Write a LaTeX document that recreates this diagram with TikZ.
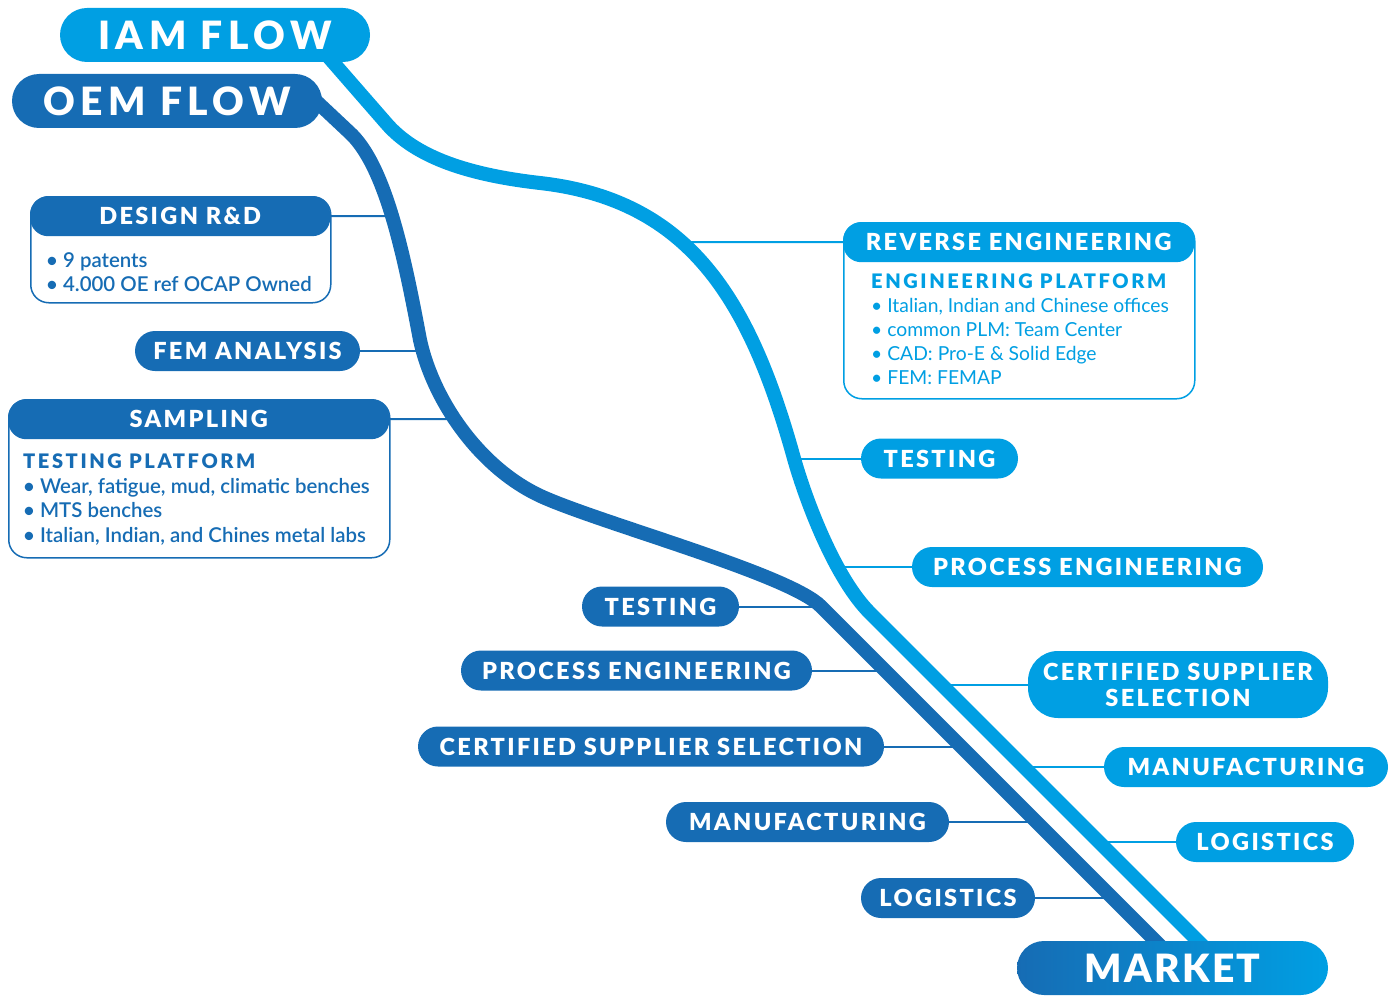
\documentclass[tikz,border=0pt]{standalone}
\usepackage{fontspec}
\setmainfont{Lato}
\newfontfamily\capsfont{Lato Black}[LetterSpace=10]
\newfontfamily\titlefont{Lato Black}[LetterSpace=14]
\newfontfamily\marketfont{Lato Black}[LetterSpace=6]
\newfontfamily\platformfont{Lato Black}[LetterSpace=13]
\newfontfamily\semifont{Lato Semibold}
\usepackage{tikz}
\usepackage{xcolor}
\definecolor{oemblue}{RGB}{22,108,180}
\definecolor{iamblue}{RGB}{0,159,227}
\pgfdeclarelayer{background}
\pgfsetlayers{background,main}
\tikzset{
  pill/.style={rounded corners=20pt, minimum height=40pt, inner sep=0pt, text=white,
    font=\capsfont\fontsize{23.5}{26}\selectfont},
  oempill/.style={pill, fill=oemblue},
  iampill/.style={pill, fill=iamblue},
  flowtitle/.style={minimum height=54pt, rounded corners=27pt,
    font=\titlefont\fontsize{39}{42}\selectfont},
  oembox/.style={draw=oemblue, line width=1.5pt, rounded corners=18pt, fill=white},
  iambox/.style={draw=iamblue, line width=1.5pt, rounded corners=18pt, fill=white},
  oemitems/.style={text=oemblue, align=left, inner sep=0pt, font=\semifont\fontsize{20.4}{24.4}\selectfont},
  iamitems/.style={text=iamblue, align=left, inner sep=0pt, font=\fontsize{19.3}{24}\selectfont},
  flow/.style={line width=14pt},
  link/.style={line width=2pt},
}
\newcommand{\platform}[1]{{\platformfont\fontsize{20}{24}\selectfont #1}}

\begin{document}
\begin{tikzpicture}[x=1pt, y=-1pt]
  \useasboundingbox (0,0) rectangle (1396,995);

  \node[iampill, flowtitle, minimum width=310pt] (iam) at (215,35) {IAM FLOW};
  \node[oempill, flowtitle, minimum width=310pt] (oem) at (167,101) {OEM FLOW};
  \node[pill, flowtitle, font=\marketfont\fontsize{39}{42}\selectfont, left color=oemblue, right color=iamblue, minimum width=311pt] (market) at (1172.5,968) {MARKET};

  % OEM side
  \node[oembox, minimum width=300pt, minimum height=106pt, anchor=north west] (designbox) at (30,196) {};
  \node[oempill, rounded corners=18pt, minimum width=300pt, anchor=north west] (design) at (30,196) {DESIGN R\&D};
  \node[oemitems, anchor=north west] (designitems) at (46,252) {• 9 patents\\• 4.000 OE ref OCAP Owned};
  \node[oempill, minimum width=225pt] (fem) at (247.5,351) {FEM ANALYSIS};
  \node[oembox, minimum width=381pt, minimum height=158pt, anchor=north west] (samplingbox) at (8,399) {};
  \node[oempill, rounded corners=18pt, minimum width=381pt, anchor=north west] (sampling) at (8,399) {SAMPLING};
  \node[oemitems, anchor=north west] (samplingitems) at (23,454) {\platform{TESTING PLATFORM}\\• Wear, fatigue, mud, climatic benches\\• MTS benches\\• Italian, Indian, and Chines metal labs};
  \node[oempill, minimum width=157pt] (testo) at (660.5,606.5) {TESTING};
  \node[oempill, minimum width=351pt] (proco) at (636.5,670.5) {PROCESS ENGINEERING};
  \node[oempill, minimum width=466pt] (certo) at (651,746.5) {CERTIFIED SUPPLIER SELECTION};
  \node[oempill, minimum width=283pt] (manuo) at (807.5,822) {MANUFACTURING};
  \node[oempill, minimum width=174pt] (logo) at (948,898) {LOGISTICS};

  % IAM side
  \node[iambox, minimum width=351pt, minimum height=176pt, anchor=north west] (reversebox) at (843,222) {};
  \node[iampill, rounded corners=18pt, minimum width=351pt, anchor=north west] (reverse) at (843,222) {REVERSE ENGINEERING};
  \node[iamitems, anchor=north west] (reverseitems) at (871,274) {\platform{ENGINEERING PLATFORM}\\• Italian, Indian and Chinese offices\\• common PLM: Team Center\\• CAD: Pro-E \& Solid Edge\\• FEM: FEMAP};
  \node[iampill, minimum width=157pt] (testi) at (939.5,458.5) {TESTING};
  \node[iampill, minimum width=351pt] (proci) at (1087.5,567) {PROCESS ENGINEERING};
  \node[iampill, rounded corners=30pt, minimum width=300pt, minimum height=67pt, align=center] (certi) at (1178,684.5) {CERTIFIED SUPPLIER\\SELECTION};
  \node[iampill, minimum width=284pt] (manui) at (1246,767) {MANUFACTURING};
  \node[iampill, minimum width=178pt] (logi) at (1265,842) {LOGISTICS};

  \coordinate (od) at (392,216);
  \coordinate (of) at (423,351);
  \coordinate (os) at (454,419);
  \coordinate (ot) at (821,606.5);
  \coordinate (op) at (886,670.5);
  \coordinate (oc) at (962,746.5);
  \coordinate (om) at (1038,822);
  \coordinate (ol) at (1114,898);
  \coordinate (ir) at (684,242);
  \coordinate (it) at (794,458.5);
  \coordinate (ip) at (838,567);
  \coordinate (ic) at (943,684.5);
  \coordinate (im) at (1024,767);
  \coordinate (il) at (1099,842);

  \begin{pgfonlayer}{background}
    \draw[link, oemblue] (design.east) -- (od);
    \draw[link, oemblue] (fem.east) -- (of);
    \draw[link, oemblue] (sampling.east) -- (os);
    \draw[link, oemblue] (testo.east) -- (ot);
    \draw[link, oemblue] (proco.east) -- (op);
    \draw[link, oemblue] (certo.east) -- (oc);
    \draw[link, oemblue] (manuo.east) -- (om);
    \draw[link, oemblue] (logo.east) -- (ol);
    \draw[link, iamblue] (reverse.west) -- (ir);
    \draw[link, iamblue] (testi.west) -- (it);
    \draw[link, iamblue] (proci.west) -- (ip);
    \draw[link, iamblue] (certi.west) -- (ic);
    \draw[link, iamblue] (manui.west) -- (im);
    \draw[link, iamblue] (logi.west) -- (il);

    \draw[flow, iamblue] (318,45) -- (386,123) .. controls (416,158) and (470,175) .. (540,183)
      .. controls (690,200) and (750,300) .. (it) .. controls (806,501) and (835,578) .. (870,613) -- (1215,958);
    \draw[flow, oemblue] (300,86) -- (349,132) .. controls (386,165) and (405,260) .. (420,340)
      .. controls (433,400) and (480,470) .. (545,498) .. controls (610,526) and (790,575) .. (ot) -- (1175,960.5);
  \end{pgfonlayer}
\end{tikzpicture}
\end{document}
